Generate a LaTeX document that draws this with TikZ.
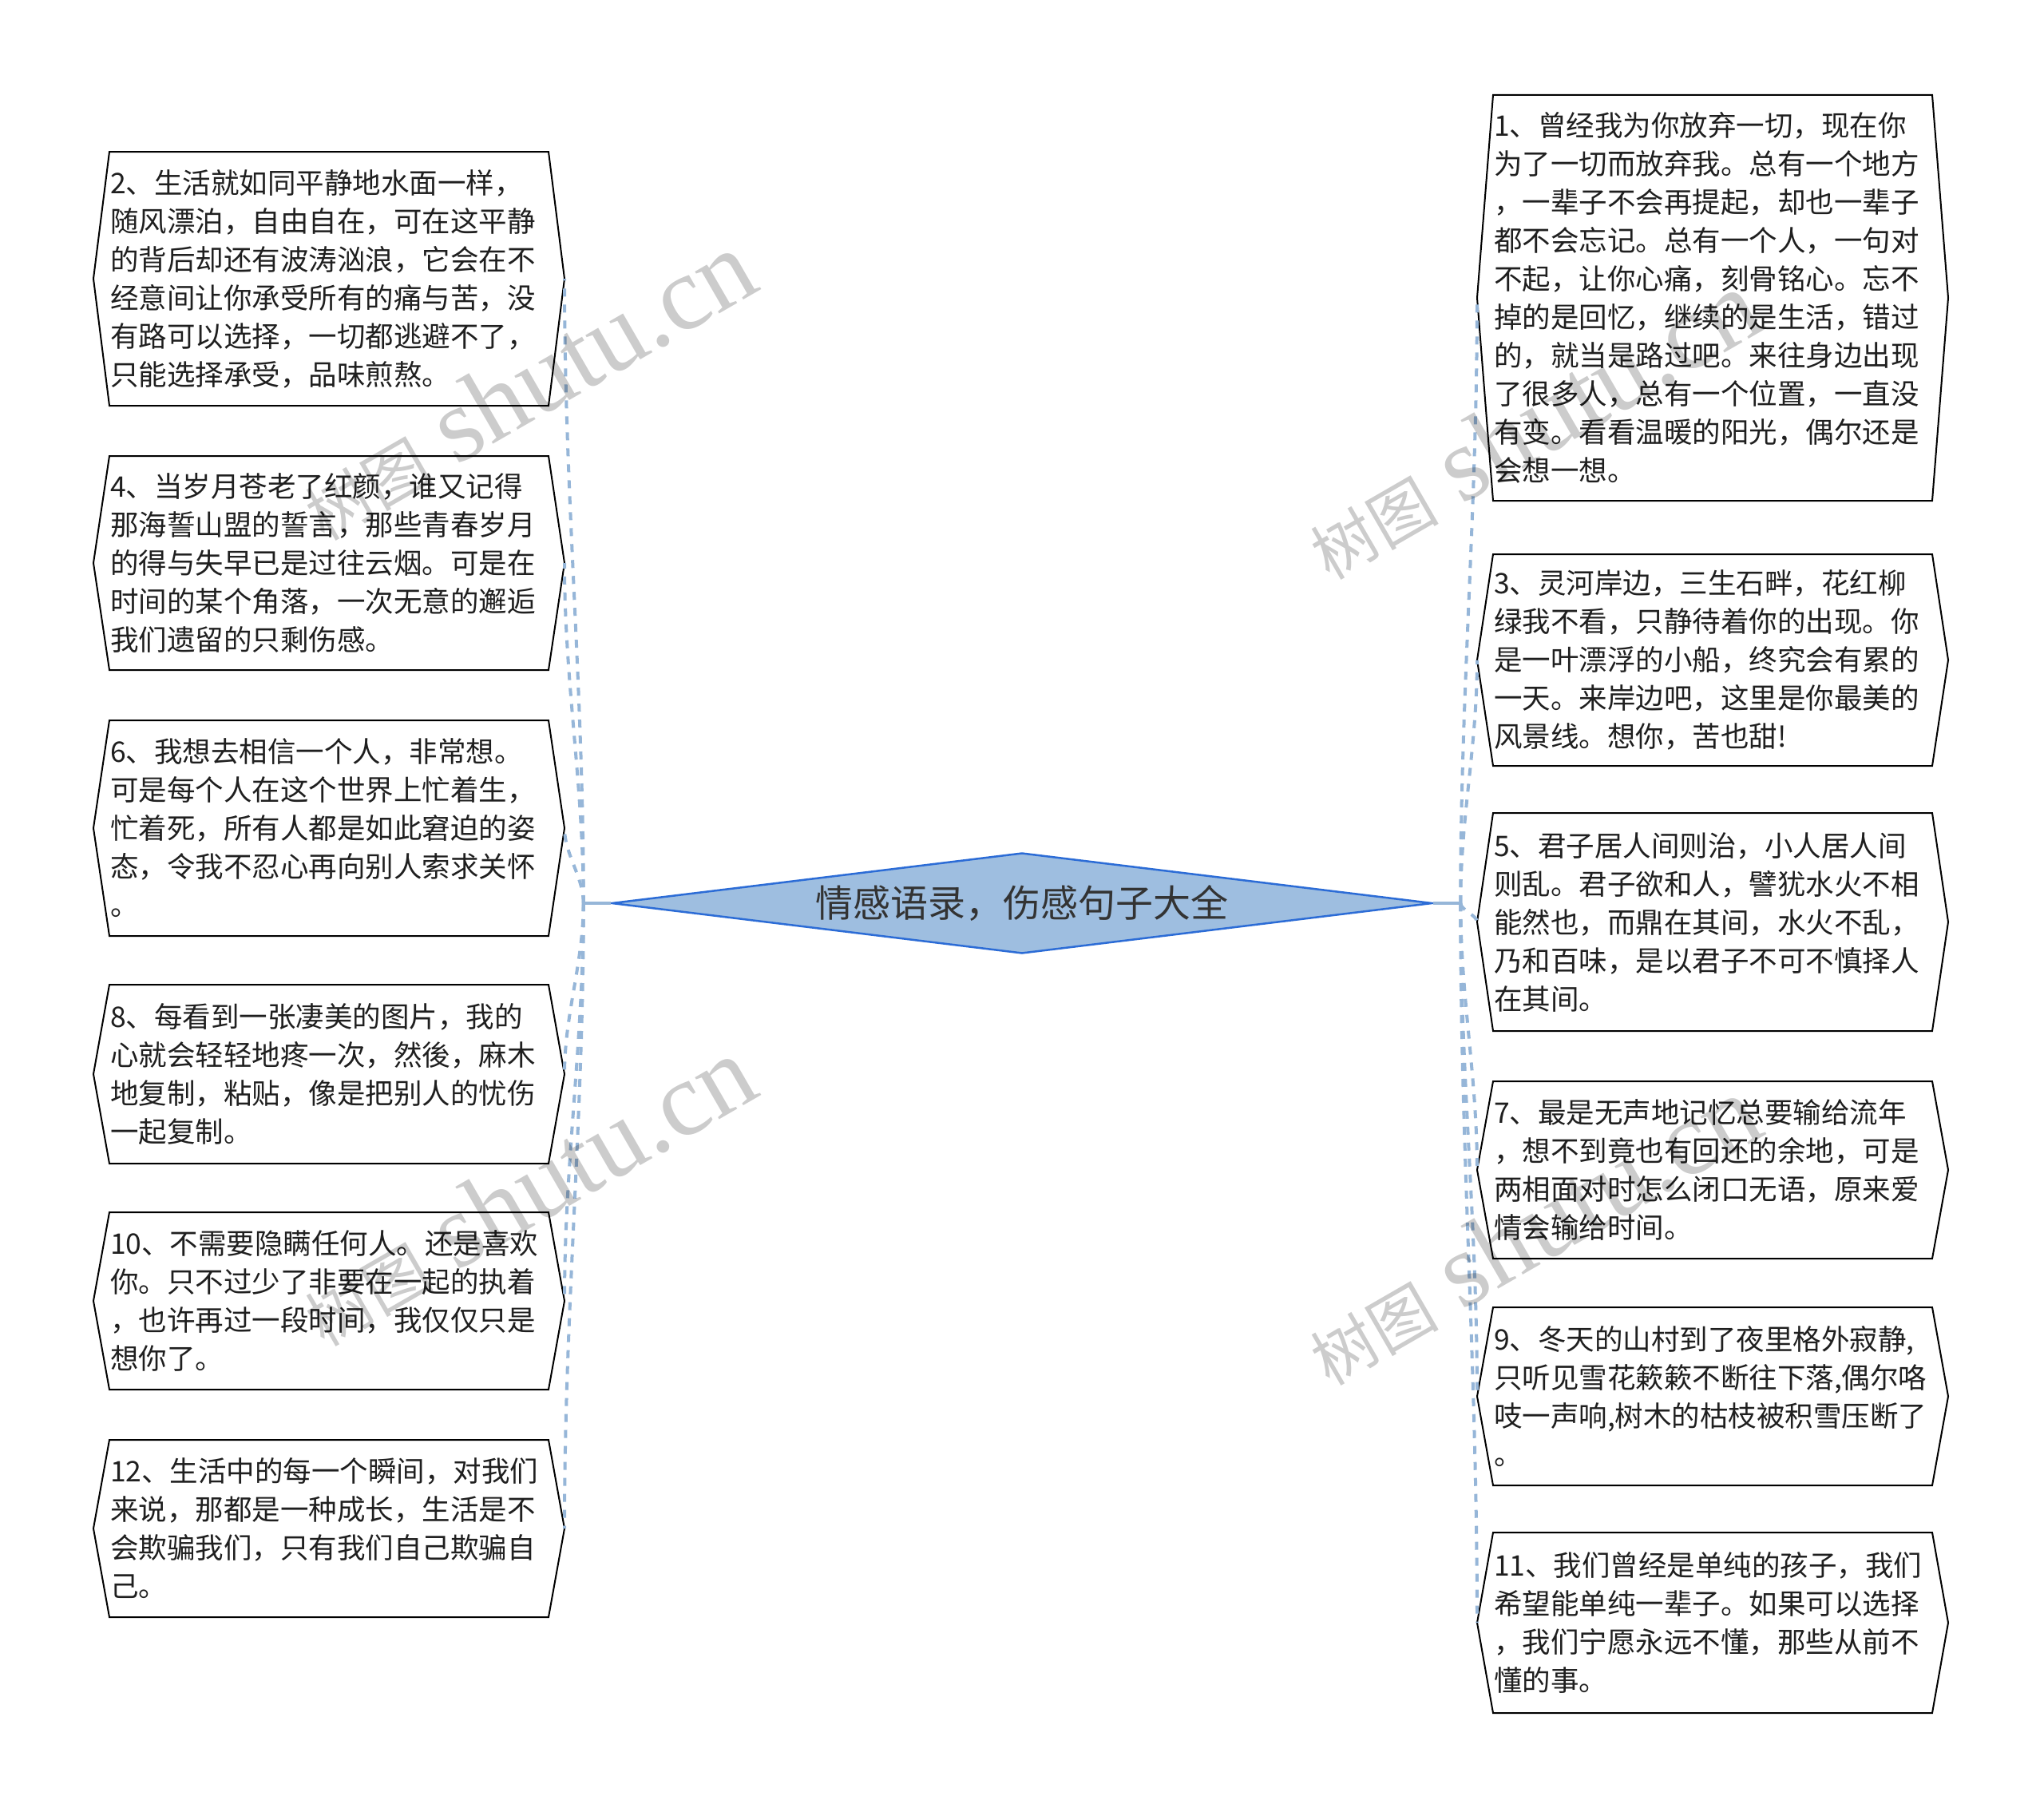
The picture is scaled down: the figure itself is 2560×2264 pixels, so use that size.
\documentclass[tikz,border=0pt]{standalone}
\usepackage{fontspec}
\setmainfont{Noto Sans CJK SC}
\newfontfamily\wmfont{Liberation Serif}
\usepackage{tikz}
\usetikzlibrary{calc,shapes.geometric}
\definecolor{linkblue}{RGB}{150,182,216}
\definecolor{rootfill}{RGB}{158,190,224}
\definecolor{rootline}{RGB}{44,108,214}

\begin{document}
\begin{tikzpicture}[x=1pt,y=-1pt,
	leaf/.style={anchor=north west, text width=548pt, inner xsep=1pt, inner ysep=0pt, outer sep=0pt, align=left, text=black!88, font=\fontsize{35.5}{48}\selectfont},
	hexa/.style={draw=black, line width=2pt, line join=miter},
	link/.style={draw=linkblue, line width=4pt, dash pattern=on 10pt off 10pt},
	wmark/.style={text=black, text opacity=0.2, rotate=30, inner sep=0pt}]
	\fill[white] (0,0) rectangle (2560,2264);
	\useasboundingbox (0,0) rectangle (2560,2264);

	% centre
	\node[diamond, aspect=8, minimum width=1028pt, minimum height=126pt, inner sep=0pt, fill=rootfill, draw=rootline, line width=2.5pt, text=black!80, font=\fontsize{47}{47}\selectfont] (root) at (1280,1131) {情感语录，伤感句子大全};

	% left column
	\node[leaf, minimum height=318pt] (b2) at (137,190) {2、生活就如同平静地水面一样，\\随风漂泊，自由自在，可在这平静\\的背后却还有波涛汹浪，它会在不\\经意间让你承受所有的痛与苦，没\\有路可以选择，一切都逃避不了，\\只能选择承受，品味煎熬。};
	\node[leaf, minimum height=268pt] (b4) at (137,571) {4、当岁月苍老了红颜，谁又记得\\那海誓山盟的誓言，那些青春岁月\\的得与失早已是过往云烟。可是在\\时间的某个角落，一次无意的邂逅\\我们遗留的只剩伤感。};
	\node[leaf, minimum height=270pt] (b6) at (137,902) {6、我想去相信一个人，非常想。\\可是每个人在这个世界上忙着生，\\忙着死，所有人都是如此窘迫的姿\\态，令我不忍心再向别人索求关怀\\。};
	\node[leaf, minimum height=224pt] (b8) at (137,1233) {8、每看到一张凄美的图片，我的\\心就会轻轻地疼一次，然後，麻木\\地复制，粘贴，像是把别人的忧伤\\一起复制。};
	\node[leaf, minimum height=222pt] (b10) at (137,1518) {10、不需要隐瞒任何人。还是喜欢\\你。只不过少了非要在一起的执着\\，也许再过一段时间，我仅仅只是\\想你了。};
	\node[leaf, minimum height=222pt] (b12) at (137,1803) {12、生活中的每一个瞬间，对我们\\来说，那都是一种成长，生活是不\\会欺骗我们，只有我们自己欺骗自\\己。};

	% right column
	\node[leaf, minimum height=508pt] (b1) at (1870,119) {1、曾经我为你放弃一切，现在你\\为了一切而放弃我。总有一个地方\\，一辈子不会再提起，却也一辈子\\都不会忘记。总有一个人，一句对\\不起，让你心痛，刻骨铭心。忘不\\掉的是回忆，继续的是生活，错过\\的，就当是路过吧。来往身边出现\\了很多人，总有一个位置，一直没\\有变。看看温暖的阳光，偶尔还是\\会想一想。};
	\node[leaf, minimum height=265pt] (b3) at (1870,694) {3、灵河岸边，三生石畔，花红柳\\绿我不看，只静待着你的出现。你\\是一叶漂浮的小船，终究会有累的\\一天。来岸边吧，这里是你最美的\\风景线。想你，苦也甜!};
	\node[leaf, minimum height=273pt] (b5) at (1870,1018) {5、君子居人间则治，小人居人间\\则乱。君子欲和人，譬犹水火不相\\能然也，而鼎在其间，水火不乱，\\乃和百味，是以君子不可不慎择人\\在其间。};
	\node[leaf, minimum height=222pt] (b7) at (1870,1354) {7、最是无声地记忆总要输给流年\\，想不到竟也有回还的余地，可是\\两相面对时怎么闭口无语，原来爱\\情会输给时间。};
	\node[leaf, minimum height=223pt] (b9) at (1870,1637) {9、冬天的山村到了夜里格外寂静,\\只听见雪花簌簌不断往下落,偶尔咯\\吱一声响,树木的枯枝被积雪压断了\\。};
	\node[leaf, minimum height=226pt] (b11) at (1870,1919) {11、我们曾经是单纯的孩子，我们\\希望能单纯一辈子。如果可以选择\\，我们宁愿永远不懂，那些从前不\\懂的事。};

	% outlines
	\foreach \b in {b1,b2,b3,b4,b5,b6,b7,b8,b9,b10,b11,b12}
		\draw[hexa] (\b.north west) -- (\b.north east) -- ([xshift=20pt]\b.east) coordinate (\b-e) -- (\b.south east) -- (\b.south west) -- ([xshift=-20pt]\b.west) coordinate (\b-w) -- cycle;

	% connectors
	\coordinate (jl) at ([xshift=-34pt]root.west);
	\coordinate (jr) at ([xshift=34pt]root.east);
	\draw[linkblue, line width=4pt] (root.west) -- (jl);
	\draw[linkblue, line width=4pt] (root.east) -- (jr);
	\foreach \b in {b2,b4,b6,b8,b10,b12}
		\draw[link] let \p1=(jl), \p2=(\b-e) in (\p1) .. controls (\x1,{\y1+0.35*(\y2-(\y1))}) and (\x2,{\y1+0.65*(\y2-(\y1))}) .. (\p2);
	\foreach \b in {b1,b3,b5,b7,b9,b11}
		\draw[link] let \p1=(jr), \p2=(\b-w) in (\p1) .. controls (\x1,{\y1+0.35*(\y2-(\y1))}) and (\x2,{\y1+0.65*(\y2-(\y1))}) .. (\p2);

	% watermark
	\foreach \wx/\wy [count=\i] in {660/483, 660/1492, 1919/532, 1919/1541}
		\node[wmark] (wm\i) at (\wx,\wy) {{\fontsize{80}{80}\selectfont 树图}\hspace{30pt}{\wmfont\fontsize{132}{132}\selectfont shutu.cn}};
\end{tikzpicture}
\end{document}
